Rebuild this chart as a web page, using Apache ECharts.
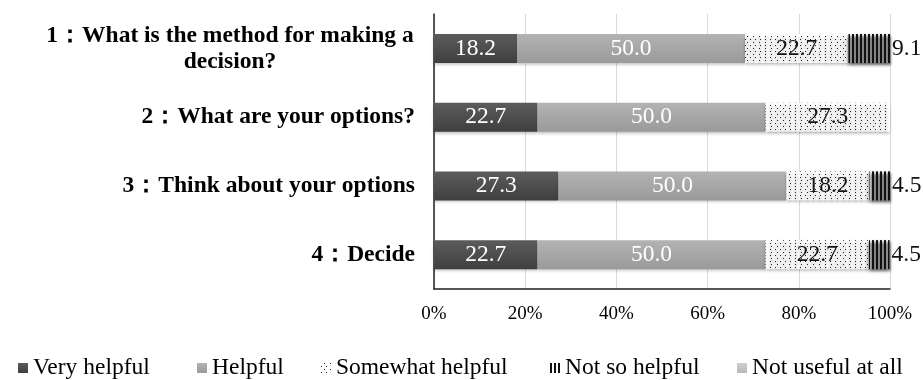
<!DOCTYPE html>
<html><head><meta charset="utf-8">
<script src="https://cdn.jsdelivr.net/npm/echarts@6/dist/echarts.min.js"></script>
<style>html,body{margin:0;padding:0;background:#fff}#c{width:923px;height:380px}</style>
</head><body><div id="c"></div>
<script>
const categories = ['1：What is the method for making a decision?', '2：What are your options?', '3：Think about your options', '4：Decide'];
const seriesNames = ['Very helpful', 'Helpful', 'Somewhat helpful', 'Not so helpful', 'Not useful at all'];
const veryHelpful = [18.2, 22.7, 27.3, 22.7];
const helpful = [50.0, 50.0, 50.0, 50.0];
const somewhatHelpful = [22.7, 27.3, 18.2, 22.7];
const notSoHelpful = [9.1, 0, 4.5, 4.5];
const notUseful = [0, 0, 0, 0];
const xTicks = [0, 20, 40, 60, 80, 100];

const FONT = '"Liberation Serif", "Times New Roman", serif';
const chart = echarts.init(document.getElementById('c'));
const grad = (a, b) => new echarts.graphic.LinearGradient(0, 0, 0, 1, [{offset: 0, color: a}, {offset: 1, color: b}]);
const fmt = p => p.value > 0 ? p.value.toFixed(1) : '';
const shadow = {shadowColor: 'rgba(0,0,0,0.25)', shadowBlur: 3, shadowOffsetY: 2};

function mk(name, data, itemStyle, label) {
  return {
    name, type: 'bar', stack: 'a', data, barWidth: 29,
    itemStyle: Object.assign({}, shadow, itemStyle),
    label: Object.assign({show: true, formatter: fmt, fontFamily: FONT, fontSize: 23.5}, label)
  };
}

const legendLefts = [13, 192, 316, 545, 732];
const legends = seriesNames.map((n, i) => ({
  left: legendLefts[i], top: 351, itemWidth: 10, itemHeight: 10, icon: 'rect',
  textStyle: {fontFamily: FONT, fontSize: 23.5, color: '#000'},
  data: [n]
}));

const option = {
  animation: false,
  grid: {left: 434, right: 33, top: 14, bottom: 91},
  legend: legends,
  xAxis: {
    type: 'value', min: 0, max: 100, interval: 20,
    axisLabel: {formatter: v => xTicks.includes(v) ? v + '%' : '', fontFamily: FONT, fontSize: 19, color: '#000', margin: 16},
    axisLine: {show: true, lineStyle: {color: '#222', width: 1.5}},
    axisTick: {show: false},
    splitLine: {lineStyle: {color: '#d9d9d9'}}
  },
  yAxis: {
    type: 'category', inverse: true, data: categories,
    axisLine: {show: true, lineStyle: {color: '#222', width: 1.5}},
    axisTick: {show: false},
    axisLabel: {
      margin: 19, fontFamily: FONT, fontSize: 23.5, fontWeight: 'bold', color: '#000', lineHeight: 26,
      formatter: v => {
        if (v.indexOf('making a') >= 0) {
          return '{c|1：What is the method for making a}\n{c|decision?}';
        }
        return v;
      },
      rich: {c: {fontFamily: FONT, fontSize: 23.5, fontWeight: 'bold', color: '#000', width: 370, align: 'center', lineHeight: 26, padding: [2, 0, 0, 0]}}
    }
  },
  series: [
    mk(seriesNames[0], veryHelpful, {color: grad('#5c5c5c', '#3f3f3f')}, {position: 'inside', color: '#fff'}),
    mk(seriesNames[1], helpful, {color: grad('#b3b3b3', '#9a9a9a')}, {position: 'inside', color: '#fff'}),
    mk(seriesNames[2], somewhatHelpful, {color: '#fff', decal: {symbol: 'rect', symbolSize: 1, color: '#222', dashArrayX: [[1, 3.5], [0, 2.25, 1, 1.25]], dashArrayY: [1, 2]}}, {position: 'inside', color: '#111'}),
    mk(seriesNames[3], notSoHelpful, {color: '#fff', decal: {symbol: 'rect', symbolSize: 1, color: '#111', dashArrayX: [1.5, 1.5], dashArrayY: [10, 0]}}, {position: 'right', color: '#111', distance: 2}),
    mk(seriesNames[4], notUseful, {color: grad('#d0d0d0', '#b8b8b8')}, {position: 'right', color: '#111'})
  ]
};
chart.setOption(option);
</script></body></html>
